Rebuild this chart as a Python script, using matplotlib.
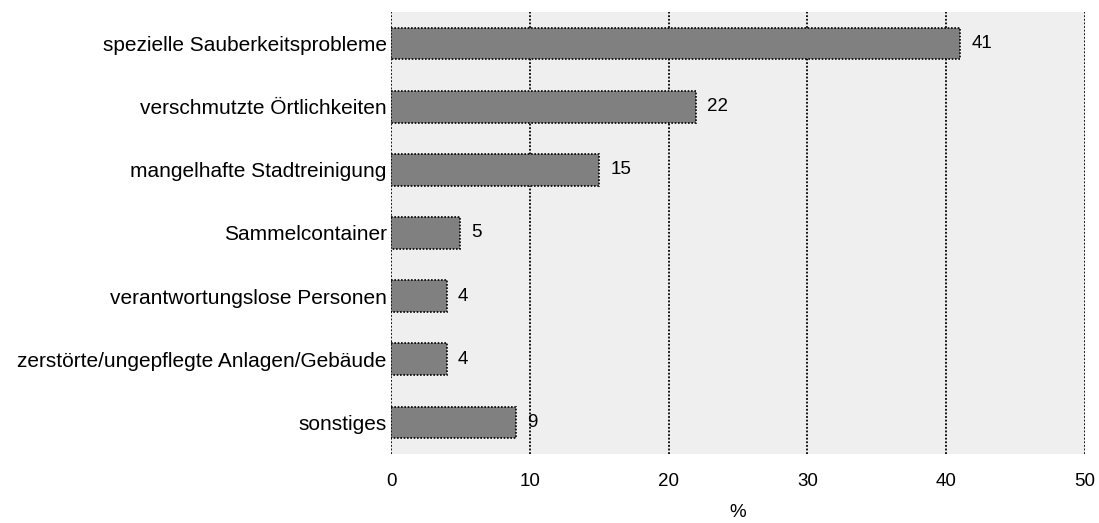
import matplotlib
matplotlib.use('Agg')
import matplotlib.pyplot as plt
import numpy as np

plt.rcParams['font.family'] = ['Liberation Sans', 'DejaVu Sans']

# ── Daten ──
categories = ['spezielle Sauberkeitsprobleme', 'verschmutzte Örtlichkeiten',
              'mangelhafte Stadtreinigung', 'Sammelcontainer',
              'verantwortungslose Personen', 'zerstörte/ungepflegte Anlagen/Gebäude',
              'sonstiges']
values = [41, 22, 15, 5, 4, 4, 9]
xticks = [0, 10, 20, 30, 40, 50]

BG_PLOT = '#efefef'
BAR = '#808080'
FS = 13.5

fig = plt.figure(figsize=(10.99, 5.23), dpi=100, facecolor='white')
ax = fig.add_axes([0.3558, 0.132, 0.6315, 0.845])
ax.set_facecolor(BG_PLOT)

y = np.arange(len(categories))
ax.barh(y, values, height=0.5, color=BAR, edgecolor='black',
        linestyle=(0, (1, 1)), linewidth=1.2, zorder=3)

for yi, v in zip(y, values):
    ax.text(v + 0.8, yi, str(v), ha='left', va='center', fontsize=FS, zorder=4)

ax.set_xlim(0, 50)
ax.set_ylim(6.5, -0.5)
ax.set_xticks(xticks)
ax.set_xticklabels([str(t) for t in xticks], fontsize=FS)
ax.set_yticks(y)
ax.set_yticklabels(categories, fontsize=15)
ax.tick_params(axis='both', length=0)
ax.tick_params(axis='y', pad=3)
ax.tick_params(axis='x', pad=14)

for t in xticks:
    ax.axvline(t, color='black', linestyle=(0, (1, 1)), linewidth=1.3, zorder=2)

for s in ax.spines.values():
    s.set_visible(False)

ax.set_xlabel('%', fontsize=FS, labelpad=10)

fig.savefig('out.png', dpi=100, facecolor='white')
